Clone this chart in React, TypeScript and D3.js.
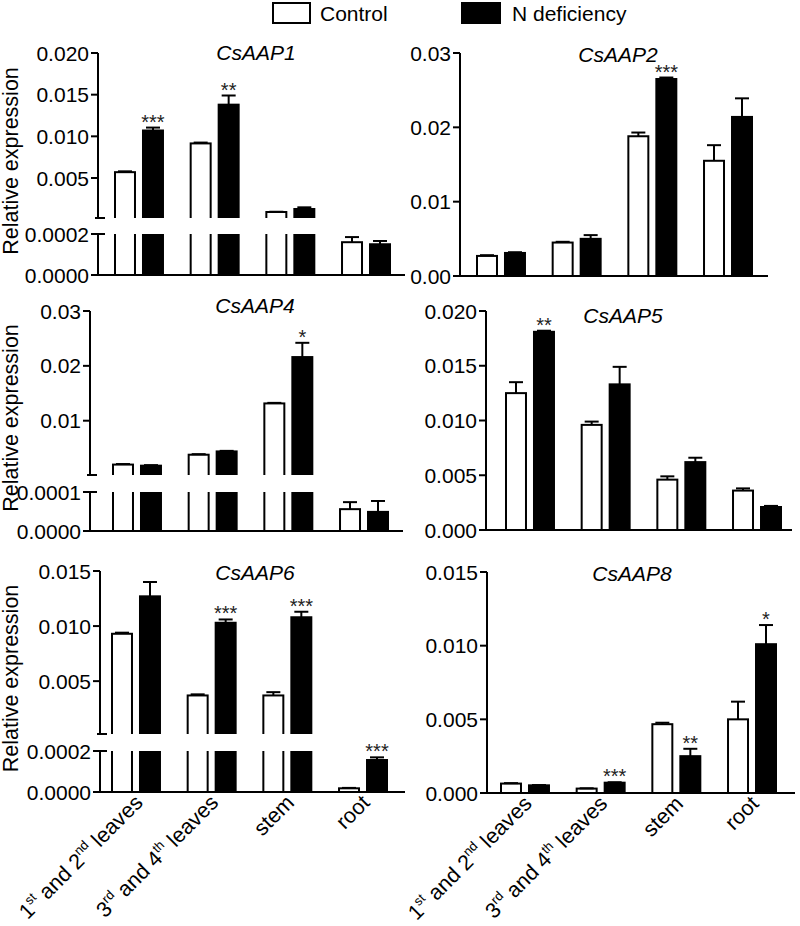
import React from "react";
import * as d3 from "d3";

const categories = ["1st and 2nd leaves", "3rd and 4th leaves", "stem", "root"];
const series = ["Control", "N deficiency"];

// CsAAP1
const aap1Control = [0.0057, 0.00915, 0.00092, 0.00016];
const aap1ControlSem = [0.0001, 0.0001, 0.00003, 0.000025];
const aap1Nd = [0.0107, 0.0138, 0.00128, 0.00015];
const aap1NdSem = [0.00035, 0.0011, 0.0002, 0.000016];
const aap1Sig = ["***", "**", "", ""];

// CsAAP2
const aap2Control = [0.0027, 0.0045, 0.0188, 0.0155];
const aap2ControlSem = [0.0001, 0.0001, 0.0005, 0.0021];
const aap2Nd = [0.0031, 0.005, 0.0265, 0.0214];
const aap2NdSem = [0.0001, 0.0005, 0.0002, 0.0025];
const aap2Sig = ["", "", "***", ""];

// CsAAP4
const aap4Control = [0.002, 0.0038, 0.01315, 0.000056];
const aap4ControlSem = [0.0001, 0.0001, 0.0001, 0.000018];
const aap4Nd = [0.0018, 0.0044, 0.0216, 0.000049];
const aap4NdSem = [0.0001, 0.0001, 0.0026, 0.000028];
const aap4Sig = ["", "", "*", ""];

// CsAAP5
const aap5Control = [0.0125, 0.0096, 0.0046, 0.0036];
const aap5ControlSem = [0.001, 0.0003, 0.0003, 0.0002];
const aap5Nd = [0.0181, 0.0133, 0.0062, 0.0021];
const aap5NdSem = [0.0001, 0.0016, 0.0004, 0.0001];
const aap5Sig = ["**", "", "", ""];

// CsAAP6
const aap6Control = [0.0093, 0.0037, 0.0037, 0.000018];
const aap6ControlSem = [0.0001, 0.0001, 0.0003, 0.000002];
const aap6Nd = [0.0127, 0.0103, 0.0108, 0.000156];
const aap6NdSem = [0.0013, 0.0003, 0.0005, 0.000013];
const aap6Sig = ["", "***", "***", "***"];

// CsAAP8
const aap8Control = [0.00064, 0.0003, 0.00467, 0.005];
const aap8ControlSem = [0.00003, 0.00002, 0.0001, 0.0012];
const aap8Nd = [0.00052, 0.0007, 0.0025, 0.0101];
const aap8NdSem = [0.00002, 0.00003, 0.0005, 0.0013];
const aap8Sig = ["", "***", "**", "*"];

// tick values
const ticksAap1Upper = [0.005, 0.01, 0.015, 0.02];
const ticksAap1Lower = [0, 0.0002];
const ticksAap2 = [0, 0.01, 0.02, 0.03];
const ticksAap4Upper = [0.01, 0.02, 0.03];
const ticksAap4Lower = [0, 0.0001];
const ticksAap5 = [0, 0.005, 0.01, 0.015, 0.02];
const ticksAap6Upper = [0.005, 0.01, 0.015];
const ticksAap6Lower = [0, 0.0002];
const ticksAap8 = [0, 0.005, 0.01, 0.015];

const FONT = '"Liberation Sans", Arial, Helvetica, sans-serif';

type Seg = {
  top: number;
  bottom: number;
  domain: [number, number];
  ticks: number[];
  fmt: string;
  kind: "single" | "lower" | "upper";
};

type Cfg = {
  id: string;
  title: string;
  control: number[];
  controlSem: number[];
  nd: number[];
  ndSem: number[];
  sig: string[];
  axisX: number;
  axisEnd: number;
  firstBar: number;
  titleX: number;
  titleY: number;
  segs: Seg[];
  yTitle: boolean;
  xLabels: boolean;
};

const panels: Cfg[] = [
  {
    id: "p1", title: "CsAAP1", control: aap1Control, controlSem: aap1ControlSem, nd: aap1Nd, ndSem: aap1NdSem, sig: aap1Sig,
    axisX: 98, axisEnd: 405, firstBar: 115, titleX: 256, titleY: 60, yTitle: true, xLabels: false,
    segs: [
      { top: 234, bottom: 275, domain: [0, 0.0002], ticks: ticksAap1Lower, fmt: ".4f", kind: "lower" },
      { top: 53, bottom: 218, domain: [0.0002, 0.02], ticks: ticksAap1Upper, fmt: ".3f", kind: "upper" },
    ],
  },
  {
    id: "p2", title: "CsAAP2", control: aap2Control, controlSem: aap2ControlSem, nd: aap2Nd, ndSem: aap2NdSem, sig: aap2Sig,
    axisX: 460, axisEnd: 768, firstBar: 477, titleX: 618, titleY: 62, yTitle: false, xLabels: false,
    segs: [{ top: 53, bottom: 276, domain: [0, 0.03], ticks: ticksAap2, fmt: ".2f", kind: "single" }],
  },
  {
    id: "p3", title: "CsAAP4", control: aap4Control, controlSem: aap4ControlSem, nd: aap4Nd, ndSem: aap4NdSem, sig: aap4Sig,
    axisX: 90, axisEnd: 403, firstBar: 113, titleX: 255, titleY: 313, yTitle: true, xLabels: false,
    segs: [
      { top: 492, bottom: 531, domain: [0, 0.0001], ticks: ticksAap4Lower, fmt: ".4f", kind: "lower" },
      { top: 311, bottom: 475, domain: [0.0001, 0.03], ticks: ticksAap4Upper, fmt: ".2f", kind: "upper" },
    ],
  },
  {
    id: "p4", title: "CsAAP5", control: aap5Control, controlSem: aap5ControlSem, nd: aap5Nd, ndSem: aap5NdSem, sig: aap5Sig,
    axisX: 486, axisEnd: 792, firstBar: 506, titleX: 623, titleY: 323, yTitle: false, xLabels: false,
    segs: [{ top: 311, bottom: 530, domain: [0, 0.02], ticks: ticksAap5, fmt: ".3f", kind: "single" }],
  },
  {
    id: "p5", title: "CsAAP6", control: aap6Control, controlSem: aap6ControlSem, nd: aap6Nd, ndSem: aap6NdSem, sig: aap6Sig,
    axisX: 100, axisEnd: 405, firstBar: 112, titleX: 255, titleY: 580, yTitle: true, xLabels: true,
    segs: [
      { top: 751, bottom: 792, domain: [0, 0.0002], ticks: ticksAap6Lower, fmt: ".4f", kind: "lower" },
      { top: 571, bottom: 734, domain: [0.0002, 0.015], ticks: ticksAap6Upper, fmt: ".3f", kind: "upper" },
    ],
  },
  {
    id: "p6", title: "CsAAP8", control: aap8Control, controlSem: aap8ControlSem, nd: aap8Nd, ndSem: aap8NdSem, sig: aap8Sig,
    axisX: 487, axisEnd: 795, firstBar: 501, titleX: 632, titleY: 581, yTitle: false, xLabels: true,
    segs: [{ top: 572, bottom: 793, domain: [0, 0.015], ticks: ticksAap8, fmt: ".3f", kind: "single" }],
  },
];

function XLabel({ cat, x, y }: { cat: string; x: number; y: number }) {
  const parts: React.ReactNode[] = [];
  if (cat.includes("1st")) {
    parts.push(<tspan key="a">1</tspan>);
    parts.push(<tspan key="b" dy={-9} fontSize={13}>st</tspan>);
    parts.push(<tspan key="c" dy={9}> and 2</tspan>);
    parts.push(<tspan key="d" dy={-9} fontSize={13}>nd</tspan>);
    parts.push(<tspan key="e" dy={9}> leaves</tspan>);
  } else if (cat.includes("3rd")) {
    parts.push(<tspan key="a">3</tspan>);
    parts.push(<tspan key="b" dy={-9} fontSize={13}>rd</tspan>);
    parts.push(<tspan key="c" dy={9}> and 4</tspan>);
    parts.push(<tspan key="d" dy={-9} fontSize={13}>th</tspan>);
    parts.push(<tspan key="e" dy={9}> leaves</tspan>);
  } else {
    parts.push(<tspan key="a">{cat}</tspan>);
  }
  return (
    <text x={0} y={0} transform={`translate(${x},${y}) rotate(-45)`} textAnchor="end" fontSize={21.5} fontFamily={FONT}>
      {parts}
    </text>
  );
}

function Panel({ cfg }: { cfg: Cfg }) {
  const xBand = d3
    .scaleBand<string>()
    .domain(categories)
    .range([cfg.firstBar, cfg.firstBar + 275])
    .paddingInner(0.366)
    .paddingOuter(0);
  const sBand = d3.scaleBand<string>().domain(series).range([0, xBand.bandwidth()]).paddingInner(0.286);
  const bw = sBand.bandwidth();
  const baseline = cfg.segs[0].bottom;

  const scales = cfg.segs.map((s) => d3.scaleLinear().domain(s.domain).range([s.bottom, s.top]));

  const segForTop = (v: number) => {
    for (let i = 0; i < cfg.segs.length; i++) {
      if (v <= cfg.segs[i].domain[1]) return i;
    }
    return cfg.segs.length - 1;
  };

  const els: React.ReactNode[] = [];
  const defs: React.ReactNode[] = [];

  cfg.segs.forEach((seg, si) => {
    const clipId = `${cfg.id}-clip-${si}`;
    const clipTop = seg.kind === "upper" || seg.kind === "single" ? seg.top - 60 : seg.top;
    const clipBottom = seg.kind === "upper" ? seg.bottom : seg.bottom + 2;
    defs.push(
      <clipPath id={clipId} key={clipId}>
        <rect x={cfg.axisX} y={clipTop} width={cfg.axisEnd - cfg.axisX + 10} height={clipBottom - clipTop} />
      </clipPath>
    );
    const y = scales[si];
    const bars: React.ReactNode[] = [];
    categories.forEach((cat, ci) => {
      series.forEach((ser, k) => {
        const v = k === 0 ? cfg.control[ci] : cfg.nd[ci];
        if (v < seg.domain[0]) return;
        let y0 = y(Math.min(v, seg.domain[1] * 1.5));
        if (v > seg.domain[1] && seg.kind === "lower") y0 = seg.top - 6;
        const y1 = seg.kind === "upper" ? seg.bottom + 6 : seg.bottom;
        const x = (xBand(cat) as number) + (sBand(ser) as number);
        bars.push(
          <rect
            key={`${ci}-${k}`}
            x={x}
            y={y0}
            width={bw}
            height={Math.max(0, y1 - y0)}
            fill={k === 0 ? "#fff" : "#000"}
            stroke="#000"
            strokeWidth={2}
          />
        );
      });
    });
    els.push(
      <g key={`bars-${si}`} clipPath={`url(#${clipId})`}>
        {bars}
      </g>
    );
  });

  // error bars and significance
  categories.forEach((cat, ci) => {
    series.forEach((ser, k) => {
      const v = k === 0 ? cfg.control[ci] : cfg.nd[ci];
      const e = k === 0 ? cfg.controlSem[ci] : cfg.ndSem[ci];
      const si = segForTop(v + e);
      const y = scales[si];
      const cx = (xBand(cat) as number) + (sBand(ser) as number) + bw / 2;
      const yv = y(Math.max(v, cfg.segs[si].domain[0]));
      const ye = y(v + e);
      els.push(
        <g key={`err-${ci}-${k}`} stroke="#000" strokeWidth={2}>
          <line x1={cx} x2={cx} y1={yv} y2={ye} />
          <line x1={cx - 7} x2={cx + 7} y1={ye} y2={ye} />
        </g>
      );
      if (k === 1 && cfg.sig[ci]) {
        els.push(
          <text key={`sig-${ci}`} x={cx} y={ye + 1} textAnchor="middle" fontSize={20} fontFamily={FONT} fill="#222">
            {cfg.sig[ci]}
          </text>
        );
      }
    });
  });

  // axes
  cfg.segs.forEach((seg, si) => {
    const y = scales[si];
    const f = d3.format(seg.fmt);
    els.push(
      <line key={`ax-${si}`} x1={cfg.axisX} x2={cfg.axisX} y1={seg.top} y2={seg.bottom} stroke="#000" strokeWidth={2} />
    );
    seg.ticks.forEach((t, ti) => {
      els.push(
        <g key={`t-${si}-${ti}`}>
          <line x1={cfg.axisX - 7} x2={cfg.axisX} y1={y(t)} y2={y(t)} stroke="#000" strokeWidth={2} />
          <text x={cfg.axisX - 9} y={y(t)} dy="0.36em" textAnchor="end" fontSize={21} fontFamily={FONT}>
            {f(t)}
          </text>
        </g>
      );
    });
    if (seg.kind === "upper") {
      els.push(
        <line key={`cap-u`} x1={cfg.axisX - 3} x2={cfg.axisX + 7} y1={seg.bottom} y2={seg.bottom} stroke="#000" strokeWidth={2} />
      );
    }
    if (seg.kind === "lower") {
      els.push(
        <line key={`cap-l`} x1={cfg.axisX - 3} x2={cfg.axisX + 7} y1={seg.top} y2={seg.top} stroke="#000" strokeWidth={2} />
      );
    }
  });
  els.push(
    <line key="xaxis" x1={cfg.axisX - 1} x2={cfg.axisEnd} y1={baseline} y2={baseline} stroke="#000" strokeWidth={2} />
  );

  els.push(
    <text key="title" x={cfg.titleX} y={cfg.titleY} textAnchor="middle" fontSize={21} fontStyle="italic" fontFamily={FONT}>
      {cfg.title}
    </text>
  );

  if (cfg.yTitle) {
    const top = cfg.segs[cfg.segs.length - 1].top;
    const cy = (top + baseline) / 2 - 3;
    els.push(
      <text key="ytitle" transform={`translate(18,${cy}) rotate(-90)`} textAnchor="middle" fontSize={21.5} fontFamily={FONT}>
        Relative expression
      </text>
    );
  }

  if (cfg.xLabels) {
    categories.forEach((cat) => {
      const cx = (xBand(cat) as number) + xBand.bandwidth() / 2;
      els.push(<XLabel key={`xl-${cat}`} cat={cat} x={cx + 8} y={baseline + 12} />);
    });
  }

  return (
    <g>
      <defs>{defs}</defs>
      {els}
    </g>
  );
}

export default function App() {
  return (
    <svg
      width={800}
      height={926}
      viewBox="0 0 800 926"
      style={{ position: "absolute", left: 0, top: 0, background: "#fff" }}
    >
      <rect x={0} y={0} width={800} height={926} fill="#fff" />
      {/* legend */}
      <rect x={273} y={3} width={37} height={20} fill="#fff" stroke="#000" strokeWidth={2} />
      <text x={320} y={21} fontSize={21} fontFamily={FONT}>
        {series[0]}
      </text>
      <rect x={462} y={3} width={38} height={20} fill="#000" stroke="#000" strokeWidth={2} />
      <text x={512} y={21} fontSize={21} fontFamily={FONT}>
        {series[1]}
      </text>
      {panels.map((p) => (
        <Panel key={p.id} cfg={p} />
      ))}
    </svg>
  );
}
